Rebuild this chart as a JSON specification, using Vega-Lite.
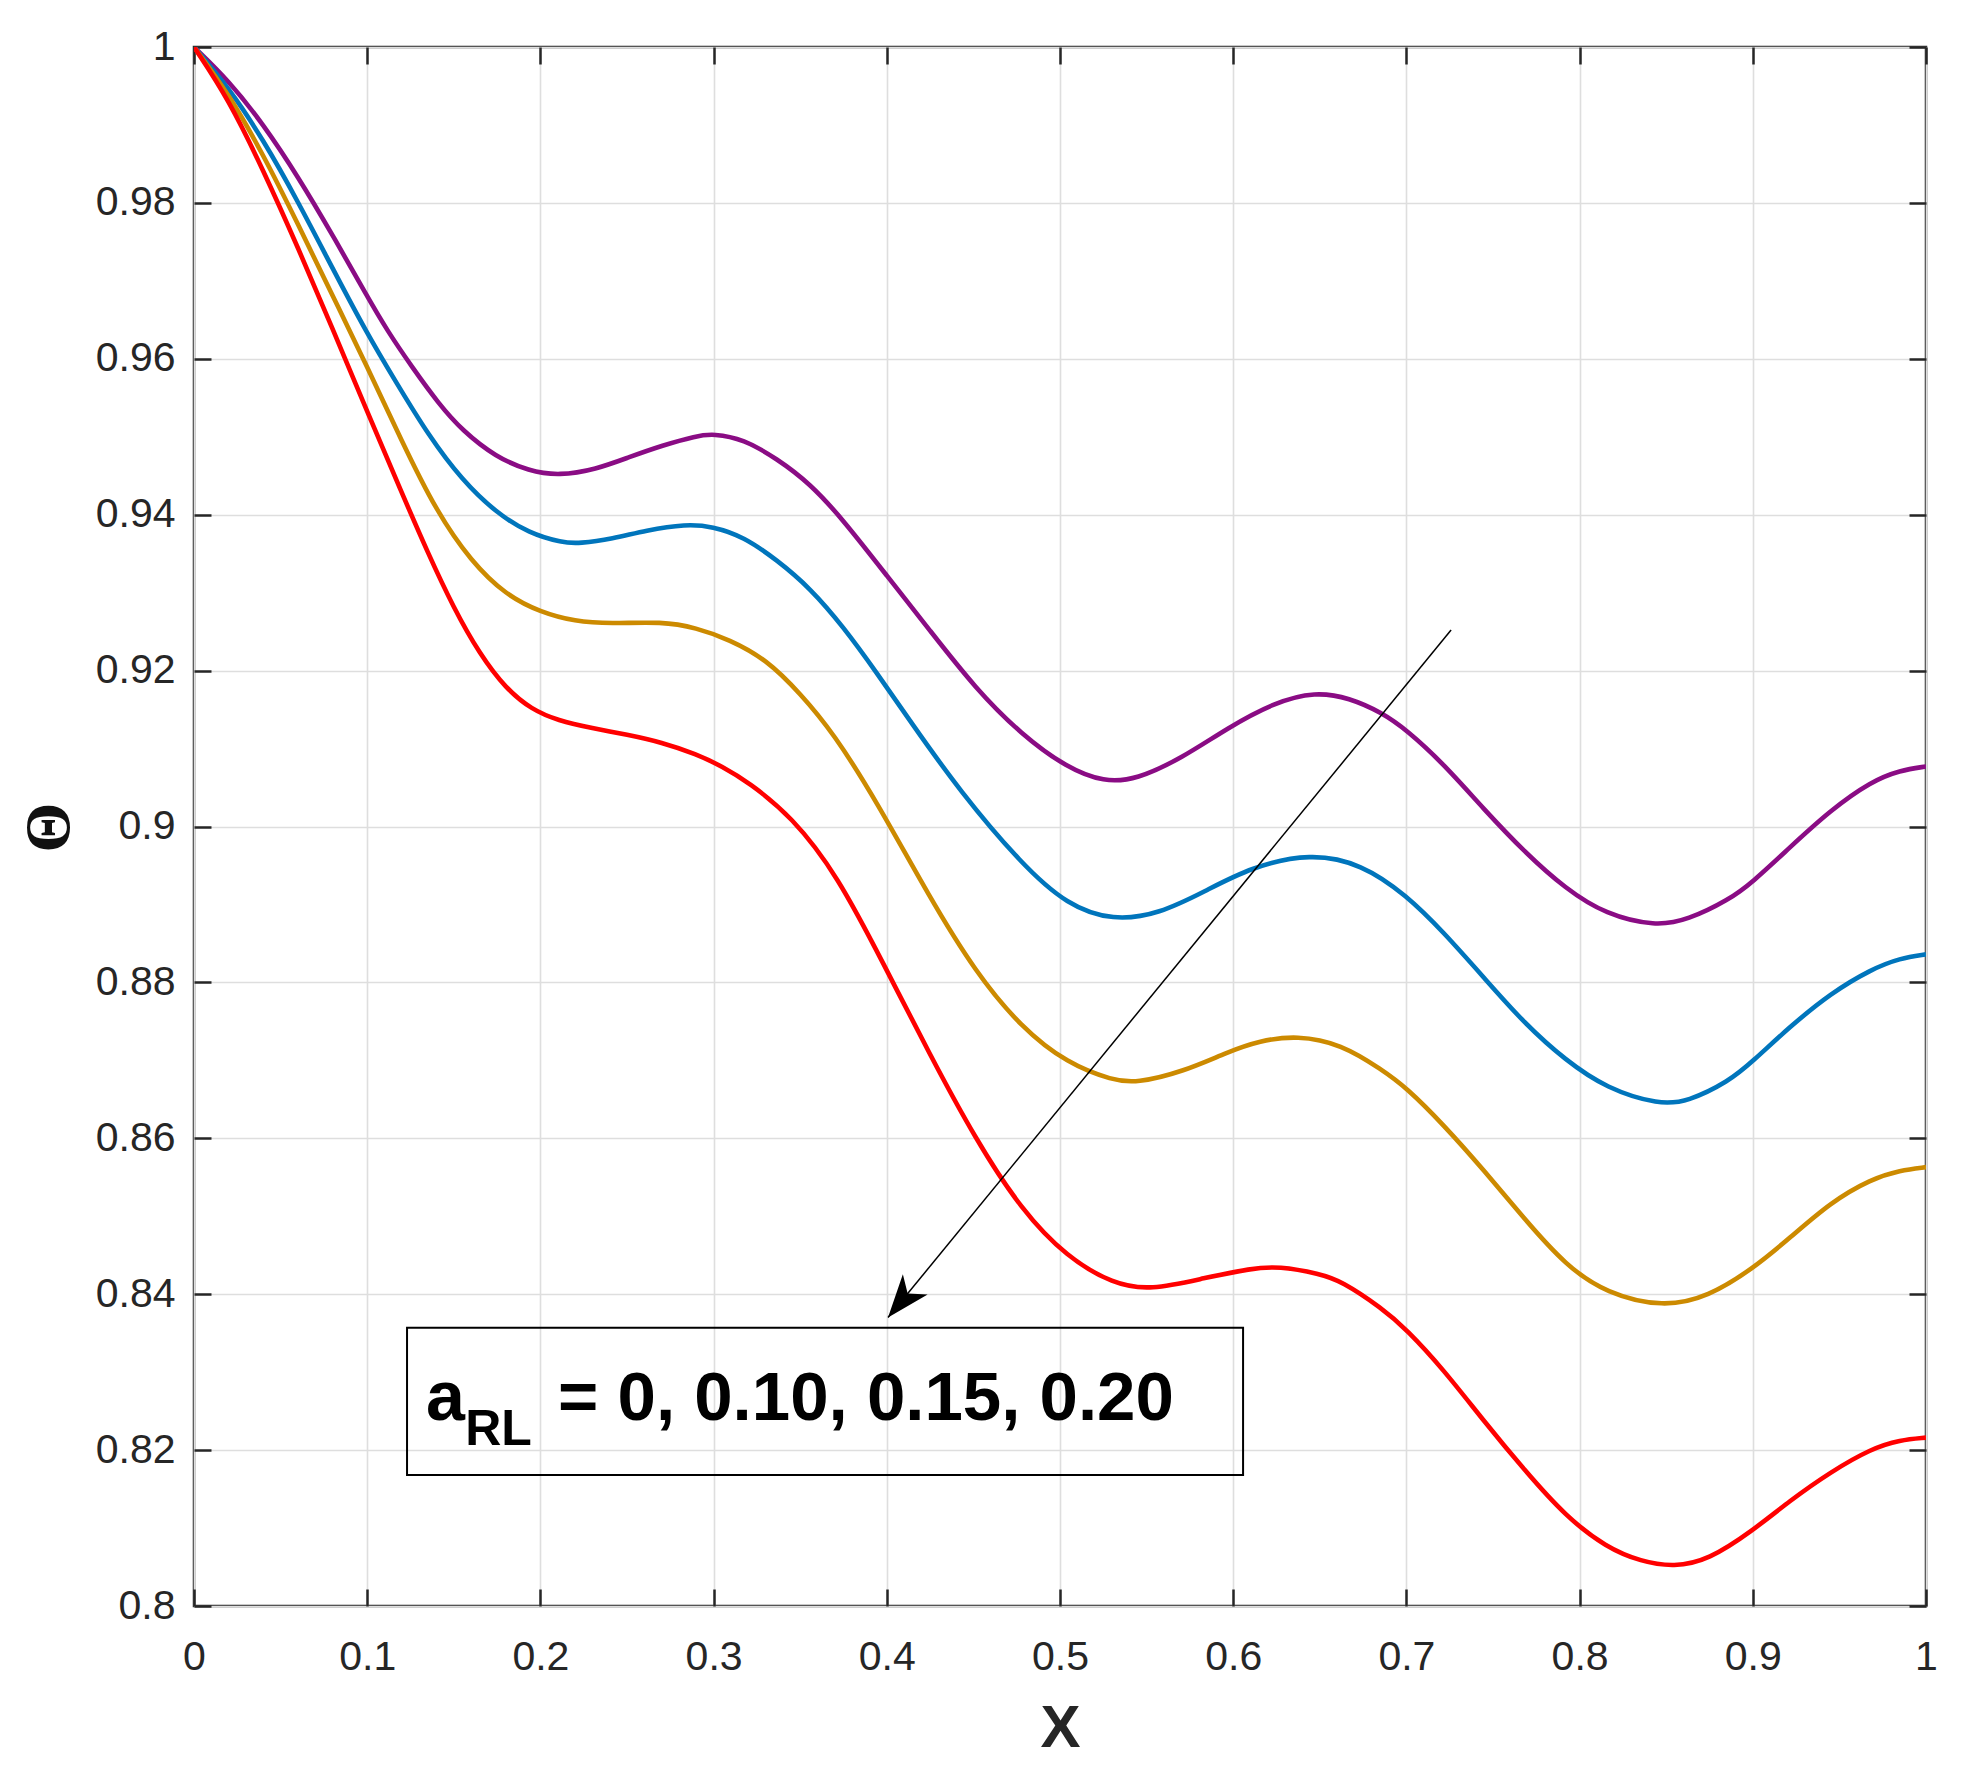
{
  "$schema": "https://vega.github.io/schema/vega-lite/v6.json",
  "width": 1732,
  "height": 1559,
  "autosize": {"type": "none"},
  "padding": {"left": 194, "top": 47, "right": 49, "bottom": 184},
  "background": "white",
  "config": {
    "view": {"stroke": "#262626", "strokeWidth": 2.5},
    "axis": {
      "labelFont": "Liberation Sans",
      "labelFontSize": 41,
      "labelColor": "#262626",
      "tickColor": "#262626",
      "tickWidth": 2.5,
      "tickSize": -17,
      "domain": false,
      "gridColor": "#dedede",
      "gridWidth": 1.6,
      "labelFlush": false,
      "labelOverlap": false,
      "labelBound": false
    }
  },
  "datasets": {
    "theta": [
      {"x": 0, "theta": 1.0, "aRL": "0"},
      {"x": 0.02, "theta": 0.9957, "aRL": "0"},
      {"x": 0.04, "theta": 0.9901, "aRL": "0"},
      {"x": 0.06, "theta": 0.9834, "aRL": "0"},
      {"x": 0.08, "theta": 0.9759, "aRL": "0"},
      {"x": 0.1, "theta": 0.968, "aRL": "0"},
      {"x": 0.1116, "theta": 0.9636, "aRL": "0"},
      {"x": 0.126, "theta": 0.9589, "aRL": "0"},
      {"x": 0.1414, "theta": 0.9542, "aRL": "0"},
      {"x": 0.1549, "theta": 0.9508, "aRL": "0"},
      {"x": 0.1742, "theta": 0.9474, "aRL": "0"},
      {"x": 0.1934, "theta": 0.9456, "aRL": "0"},
      {"x": 0.2108, "theta": 0.9450, "aRL": "0"},
      {"x": 0.232, "theta": 0.9458, "aRL": "0"},
      {"x": 0.2513, "theta": 0.9474, "aRL": "0"},
      {"x": 0.2705, "theta": 0.9489, "aRL": "0"},
      {"x": 0.2898, "theta": 0.9501, "aRL": "0"},
      {"x": 0.3, "theta": 0.9504, "aRL": "0"},
      {"x": 0.3172, "theta": 0.9497, "aRL": "0"},
      {"x": 0.3365, "theta": 0.9472, "aRL": "0"},
      {"x": 0.3557, "theta": 0.944, "aRL": "0"},
      {"x": 0.375, "theta": 0.9393, "aRL": "0"},
      {"x": 0.4003, "theta": 0.9321, "aRL": "0"},
      {"x": 0.4247, "theta": 0.9252, "aRL": "0"},
      {"x": 0.4512, "theta": 0.9177, "aRL": "0"},
      {"x": 0.4777, "theta": 0.9118, "aRL": "0"},
      {"x": 0.5042, "theta": 0.9075, "aRL": "0"},
      {"x": 0.5255, "theta": 0.9057, "aRL": "0"},
      {"x": 0.544, "theta": 0.906, "aRL": "0"},
      {"x": 0.5706, "theta": 0.9088, "aRL": "0"},
      {"x": 0.5971, "theta": 0.9127, "aRL": "0"},
      {"x": 0.6236, "theta": 0.9159, "aRL": "0"},
      {"x": 0.6475, "theta": 0.9173, "aRL": "0"},
      {"x": 0.667, "theta": 0.9165, "aRL": "0"},
      {"x": 0.6859, "theta": 0.9146, "aRL": "0"},
      {"x": 0.7, "theta": 0.9124, "aRL": "0"},
      {"x": 0.7212, "theta": 0.9081, "aRL": "0"},
      {"x": 0.7448, "theta": 0.9022, "aRL": "0"},
      {"x": 0.7683, "theta": 0.8967, "aRL": "0"},
      {"x": 0.7919, "theta": 0.892, "aRL": "0"},
      {"x": 0.8152, "theta": 0.8887, "aRL": "0"},
      {"x": 0.8438, "theta": 0.8872, "aRL": "0"},
      {"x": 0.8624, "theta": 0.888, "aRL": "0"},
      {"x": 0.8862, "theta": 0.8906, "aRL": "0"},
      {"x": 0.8996, "theta": 0.8928, "aRL": "0"},
      {"x": 0.9213, "theta": 0.8973, "aRL": "0"},
      {"x": 0.9449, "theta": 0.9021, "aRL": "0"},
      {"x": 0.9685, "theta": 0.9058, "aRL": "0"},
      {"x": 0.985, "theta": 0.9072, "aRL": "0"},
      {"x": 1.0, "theta": 0.9077, "aRL": "0"},

      {"x": 0, "theta": 1.0, "aRL": "0.10"},
      {"x": 0.02, "theta": 0.9948, "aRL": "0.10"},
      {"x": 0.04, "theta": 0.9881, "aRL": "0.10"},
      {"x": 0.06, "theta": 0.9802, "aRL": "0.10"},
      {"x": 0.08, "theta": 0.9716, "aRL": "0.10"},
      {"x": 0.1, "theta": 0.9632, "aRL": "0.10"},
      {"x": 0.1164, "theta": 0.9571, "aRL": "0.10"},
      {"x": 0.1356, "theta": 0.9501, "aRL": "0.10"},
      {"x": 0.1549, "theta": 0.9444, "aRL": "0.10"},
      {"x": 0.1742, "theta": 0.9403, "aRL": "0.10"},
      {"x": 0.1934, "theta": 0.9376, "aRL": "0.10"},
      {"x": 0.2127, "theta": 0.9364, "aRL": "0.10"},
      {"x": 0.2224, "theta": 0.9363, "aRL": "0.10"},
      {"x": 0.2416, "theta": 0.9369, "aRL": "0.10"},
      {"x": 0.2609, "theta": 0.938, "aRL": "0.10"},
      {"x": 0.284, "theta": 0.9388, "aRL": "0.10"},
      {"x": 0.2994, "theta": 0.9385, "aRL": "0.10"},
      {"x": 0.3172, "theta": 0.9372, "aRL": "0.10"},
      {"x": 0.3365, "theta": 0.9342, "aRL": "0.10"},
      {"x": 0.3557, "theta": 0.9306, "aRL": "0.10"},
      {"x": 0.375, "theta": 0.9256, "aRL": "0.10"},
      {"x": 0.3943, "theta": 0.9197, "aRL": "0.10"},
      {"x": 0.4135, "theta": 0.9135, "aRL": "0.10"},
      {"x": 0.4423, "theta": 0.9045, "aRL": "0.10"},
      {"x": 0.4777, "theta": 0.8952, "aRL": "0.10"},
      {"x": 0.5042, "theta": 0.8899, "aRL": "0.10"},
      {"x": 0.5308, "theta": 0.8879, "aRL": "0.10"},
      {"x": 0.5573, "theta": 0.8888, "aRL": "0.10"},
      {"x": 0.5838, "theta": 0.8917, "aRL": "0.10"},
      {"x": 0.6103, "theta": 0.8948, "aRL": "0.10"},
      {"x": 0.6448, "theta": 0.8966, "aRL": "0.10"},
      {"x": 0.6741, "theta": 0.8952, "aRL": "0.10"},
      {"x": 0.7, "theta": 0.8912, "aRL": "0.10"},
      {"x": 0.7212, "theta": 0.8865, "aRL": "0.10"},
      {"x": 0.7448, "theta": 0.8806, "aRL": "0.10"},
      {"x": 0.7683, "theta": 0.8747, "aRL": "0.10"},
      {"x": 0.7919, "theta": 0.87, "aRL": "0.10"},
      {"x": 0.8155, "theta": 0.8664, "aRL": "0.10"},
      {"x": 0.8461, "theta": 0.8643, "aRL": "0.10"},
      {"x": 0.8624, "theta": 0.8647, "aRL": "0.10"},
      {"x": 0.8862, "theta": 0.8673, "aRL": "0.10"},
      {"x": 0.8996, "theta": 0.8698, "aRL": "0.10"},
      {"x": 0.9213, "theta": 0.8743, "aRL": "0.10"},
      {"x": 0.9449, "theta": 0.8786, "aRL": "0.10"},
      {"x": 0.9685, "theta": 0.8817, "aRL": "0.10"},
      {"x": 0.985, "theta": 0.8831, "aRL": "0.10"},
      {"x": 1.0, "theta": 0.8836, "aRL": "0.10"},

      {"x": 0, "theta": 1.0, "aRL": "0.15"},
      {"x": 0.02, "theta": 0.994, "aRL": "0.15"},
      {"x": 0.04, "theta": 0.9862, "aRL": "0.15"},
      {"x": 0.06, "theta": 0.9773, "aRL": "0.15"},
      {"x": 0.08, "theta": 0.9681, "aRL": "0.15"},
      {"x": 0.1, "theta": 0.959, "aRL": "0.15"},
      {"x": 0.12, "theta": 0.9494, "aRL": "0.15"},
      {"x": 0.14, "theta": 0.9404, "aRL": "0.15"},
      {"x": 0.16, "theta": 0.934, "aRL": "0.15"},
      {"x": 0.18, "theta": 0.9297, "aRL": "0.15"},
      {"x": 0.2, "theta": 0.9275, "aRL": "0.15"},
      {"x": 0.22, "theta": 0.9263, "aRL": "0.15"},
      {"x": 0.24, "theta": 0.926, "aRL": "0.15"},
      {"x": 0.2705, "theta": 0.9263, "aRL": "0.15"},
      {"x": 0.2898, "theta": 0.9255, "aRL": "0.15"},
      {"x": 0.309, "theta": 0.924, "aRL": "0.15"},
      {"x": 0.3307, "theta": 0.9214, "aRL": "0.15"},
      {"x": 0.3499, "theta": 0.9171, "aRL": "0.15"},
      {"x": 0.3692, "theta": 0.912, "aRL": "0.15"},
      {"x": 0.3942, "theta": 0.9032, "aRL": "0.15"},
      {"x": 0.4247, "theta": 0.8909, "aRL": "0.15"},
      {"x": 0.4512, "theta": 0.8813, "aRL": "0.15"},
      {"x": 0.4777, "theta": 0.8742, "aRL": "0.15"},
      {"x": 0.5042, "theta": 0.8696, "aRL": "0.15"},
      {"x": 0.5308, "theta": 0.8674, "aRL": "0.15"},
      {"x": 0.544, "theta": 0.8671, "aRL": "0.15"},
      {"x": 0.5706, "theta": 0.8685, "aRL": "0.15"},
      {"x": 0.5971, "theta": 0.8711, "aRL": "0.15"},
      {"x": 0.615, "theta": 0.8725, "aRL": "0.15"},
      {"x": 0.6369, "theta": 0.8732, "aRL": "0.15"},
      {"x": 0.6623, "theta": 0.8721, "aRL": "0.15"},
      {"x": 0.6859, "theta": 0.8688, "aRL": "0.15"},
      {"x": 0.7, "theta": 0.8665, "aRL": "0.15"},
      {"x": 0.7212, "theta": 0.8618, "aRL": "0.15"},
      {"x": 0.7448, "theta": 0.8559, "aRL": "0.15"},
      {"x": 0.7683, "theta": 0.8496, "aRL": "0.15"},
      {"x": 0.7919, "theta": 0.8437, "aRL": "0.15"},
      {"x": 0.8155, "theta": 0.8401, "aRL": "0.15"},
      {"x": 0.8485, "theta": 0.8383, "aRL": "0.15"},
      {"x": 0.8744, "theta": 0.8397, "aRL": "0.15"},
      {"x": 0.8996, "theta": 0.8432, "aRL": "0.15"},
      {"x": 0.9213, "theta": 0.8472, "aRL": "0.15"},
      {"x": 0.9449, "theta": 0.8518, "aRL": "0.15"},
      {"x": 0.9685, "theta": 0.8548, "aRL": "0.15"},
      {"x": 0.985, "theta": 0.8559, "aRL": "0.15"},
      {"x": 1.0, "theta": 0.8563, "aRL": "0.15"},

      {"x": 0, "theta": 1.0, "aRL": "0.20"},
      {"x": 0.02, "theta": 0.9933, "aRL": "0.20"},
      {"x": 0.04, "theta": 0.9842, "aRL": "0.20"},
      {"x": 0.06, "theta": 0.9743, "aRL": "0.20"},
      {"x": 0.08, "theta": 0.9639, "aRL": "0.20"},
      {"x": 0.1, "theta": 0.9532, "aRL": "0.20"},
      {"x": 0.12, "theta": 0.9428, "aRL": "0.20"},
      {"x": 0.135, "theta": 0.9351, "aRL": "0.20"},
      {"x": 0.15, "theta": 0.928, "aRL": "0.20"},
      {"x": 0.165, "theta": 0.9221, "aRL": "0.20"},
      {"x": 0.18, "theta": 0.9177, "aRL": "0.20"},
      {"x": 0.195, "theta": 0.915, "aRL": "0.20"},
      {"x": 0.21, "theta": 0.9136, "aRL": "0.20"},
      {"x": 0.23, "theta": 0.9126, "aRL": "0.20"},
      {"x": 0.25, "theta": 0.9118, "aRL": "0.20"},
      {"x": 0.27, "theta": 0.9108, "aRL": "0.20"},
      {"x": 0.29, "theta": 0.9093, "aRL": "0.20"},
      {"x": 0.305, "theta": 0.9077, "aRL": "0.20"},
      {"x": 0.32, "theta": 0.9057, "aRL": "0.20"},
      {"x": 0.3451, "theta": 0.9013, "aRL": "0.20"},
      {"x": 0.3716, "theta": 0.8937, "aRL": "0.20"},
      {"x": 0.3981, "theta": 0.8824, "aRL": "0.20"},
      {"x": 0.4247, "theta": 0.8708, "aRL": "0.20"},
      {"x": 0.4512, "theta": 0.8599, "aRL": "0.20"},
      {"x": 0.4777, "theta": 0.8508, "aRL": "0.20"},
      {"x": 0.5042, "theta": 0.8447, "aRL": "0.20"},
      {"x": 0.5308, "theta": 0.8413, "aRL": "0.20"},
      {"x": 0.552, "theta": 0.8405, "aRL": "0.20"},
      {"x": 0.5838, "theta": 0.8421, "aRL": "0.20"},
      {"x": 0.6103, "theta": 0.8433, "aRL": "0.20"},
      {"x": 0.6263, "theta": 0.8436, "aRL": "0.20"},
      {"x": 0.6501, "theta": 0.8426, "aRL": "0.20"},
      {"x": 0.6623, "theta": 0.8417, "aRL": "0.20"},
      {"x": 0.6859, "theta": 0.8382, "aRL": "0.20"},
      {"x": 0.7, "theta": 0.8355, "aRL": "0.20"},
      {"x": 0.7212, "theta": 0.8304, "aRL": "0.20"},
      {"x": 0.7448, "theta": 0.8237, "aRL": "0.20"},
      {"x": 0.7683, "theta": 0.8174, "aRL": "0.20"},
      {"x": 0.7919, "theta": 0.8115, "aRL": "0.20"},
      {"x": 0.8155, "theta": 0.8075, "aRL": "0.20"},
      {"x": 0.8355, "theta": 0.8057, "aRL": "0.20"},
      {"x": 0.8545, "theta": 0.805, "aRL": "0.20"},
      {"x": 0.8744, "theta": 0.8059, "aRL": "0.20"},
      {"x": 0.8996, "theta": 0.8096, "aRL": "0.20"},
      {"x": 0.9213, "theta": 0.8135, "aRL": "0.20"},
      {"x": 0.9449, "theta": 0.8172, "aRL": "0.20"},
      {"x": 0.9685, "theta": 0.8202, "aRL": "0.20"},
      {"x": 0.985, "theta": 0.8213, "aRL": "0.20"},
      {"x": 1.0, "theta": 0.8216, "aRL": "0.20"}
    ]
  },
  "layer": [
    {
      "data": {"name": "theta"},
      "mark": {"type": "line", "interpolate": "basis", "strokeWidth": 4.6, "clip": true},
      "encoding": {
        "x": {
          "field": "x",
          "type": "quantitative",
          "scale": {"domain": [0, 1], "nice": false, "zero": false},
          "axis": {
            "orient": "bottom",
            "values": [0, 0.1, 0.2, 0.3, 0.4, 0.5, 0.6, 0.7, 0.8, 0.9, 1],
            "format": "~g",
            "grid": true,
            "labelPadding": 48,
            "title": "X",
            "titleFont": "Liberation Sans",
            "titleFontWeight": "bold",
            "titleFontSize": 60,
            "titleColor": "#262626",
            "titleAnchor": null,
            "titleX": 866,
            "titleY": 140,
            "titleAlign": "center",
            "titleBaseline": "alphabetic"
          }
        },
        "y": {
          "field": "theta",
          "type": "quantitative",
          "scale": {"domain": [0.8, 1], "nice": false, "zero": false},
          "axis": {
            "orient": "left",
            "values": [0.8, 0.82, 0.84, 0.86, 0.88, 0.9, 0.92, 0.94, 0.96, 0.98, 1],
            "format": "~g",
            "grid": true,
            "labelPadding": 36,
            "title": "Θ",
            "titleFont": "Liberation Serif",
            "titleFontWeight": "bold",
            "titleFontSize": 64,
            "titleColor": "#111111",
            "titleAngle": -90,
            "titleX": -126,
            "titleY": 780,
            "titleAlign": "center",
            "titleBaseline": "alphabetic"
          }
        },
        "color": {
          "field": "aRL",
          "type": "nominal",
          "scale": {
            "domain": ["0", "0.10", "0.15", "0.20"],
            "range": ["#8A0C84", "#0075BC", "#CC8A00", "#FF0000"]
          },
          "legend": null
        }
      }
    },
    {
      "data": {"name": "theta"},
      "mark": {"type": "point", "opacity": 0},
      "encoding": {
        "x": {
          "field": "x",
          "type": "quantitative",
          "axis": {
            "orient": "top",
            "values": [0, 0.1, 0.2, 0.3, 0.4, 0.5, 0.6, 0.7, 0.8, 0.9, 1],
            "labels": false,
            "grid": false,
            "title": null
          }
        },
        "y": {
          "field": "theta",
          "type": "quantitative",
          "axis": {
            "orient": "right",
            "values": [0.8, 0.82, 0.84, 0.86, 0.88, 0.9, 0.92, 0.94, 0.96, 0.98, 1],
            "labels": false,
            "grid": false,
            "title": null
          }
        }
      }
    },
    {
      "data": {"values": [{}]},
      "mark": {"type": "rule", "color": "black", "strokeWidth": 1.5},
      "encoding": {
        "x": {"datum": 0.7258, "type": "quantitative", "axis": null},
        "y": {"datum": 0.9252, "type": "quantitative", "axis": null},
        "x2": {"datum": 0.4007},
        "y2": {"datum": 0.837}
      }
    },
    {
      "data": {"values": [{}]},
      "mark": {
        "type": "point",
        "shape": "M0,0 L1.6,4.3 L0,3.1 L-1.6,4.3 Z",
        "size": 400,
        "angle": 219.3,
        "filled": true,
        "color": "black",
        "opacity": 1,
        "strokeWidth": 0
      },
      "encoding": {
        "x": {"datum": 0.4007, "type": "quantitative", "axis": null},
        "y": {"datum": 0.837, "type": "quantitative", "axis": null}
      }
    },
    {
      "data": {"values": [{}]},
      "mark": {"type": "rect", "fill": null, "fillOpacity": 0, "stroke": "black", "strokeWidth": 2},
      "encoding": {
        "x": {"datum": 0.123, "type": "quantitative", "axis": null},
        "x2": {"datum": 0.6057},
        "y": {"datum": 0.8357, "type": "quantitative", "axis": null},
        "y2": {"datum": 0.8168}
      }
    },
    {
      "data": {"values": [{}]},
      "mark": {"type": "text", "text": "a", "font": "Liberation Sans", "fontWeight": "bold", "fontSize": 70, "align": "left", "baseline": "alphabetic", "color": "black"},
      "encoding": {
        "x": {"datum": 0.134, "type": "quantitative", "axis": null},
        "y": {"datum": 0.82386, "type": "quantitative", "axis": null}
      }
    },
    {
      "data": {"values": [{}]},
      "mark": {"type": "text", "text": "RL", "font": "Liberation Sans", "fontWeight": "bold", "fontSize": 50, "align": "left", "baseline": "alphabetic", "color": "black"},
      "encoding": {
        "x": {"datum": 0.1566, "type": "quantitative", "axis": null},
        "y": {"datum": 0.82066, "type": "quantitative", "axis": null}
      }
    },
    {
      "data": {"values": [{}]},
      "mark": {"type": "text", "text": "= 0, 0.10, 0.15, 0.20", "font": "Liberation Sans", "fontWeight": "bold", "fontSize": 69, "align": "left", "baseline": "alphabetic", "color": "black"},
      "encoding": {
        "x": {"datum": 0.2102, "type": "quantitative", "axis": null},
        "y": {"datum": 0.82386, "type": "quantitative", "axis": null}
      }
    }
  ],
  "resolve": {"axis": {"x": "independent", "y": "independent"}}
}
